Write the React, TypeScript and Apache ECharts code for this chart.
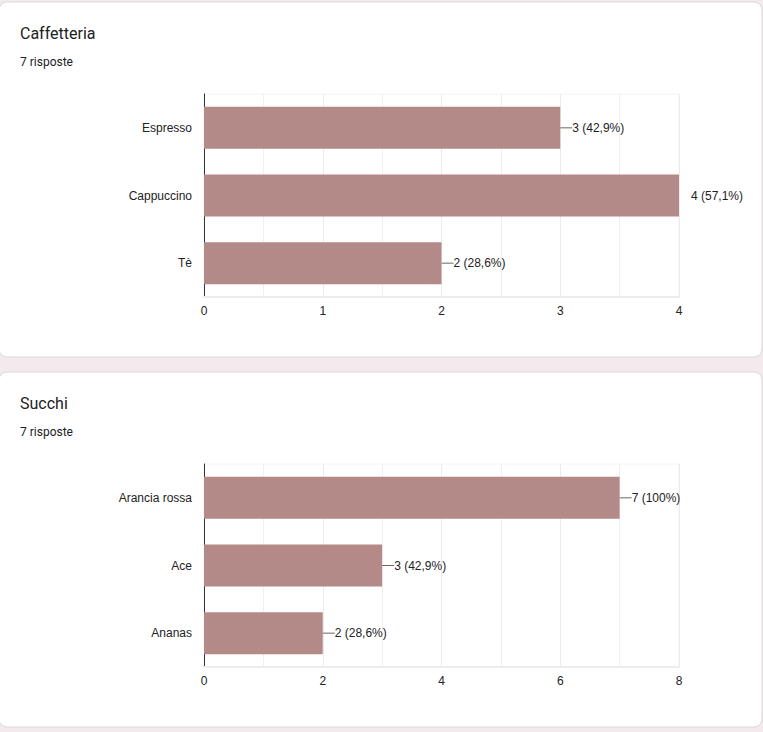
import React, { useEffect, useRef } from "react";
import * as echarts from "echarts";

const coffeeCategories = ["Espresso", "Cappuccino", "Tè"];
const coffeeValues = [3, 4, 2];
const coffeePercents = ["42,9%", "57,1%", "28,6%"];

const juiceCategories = ["Arancia rossa", "Ace", "Ananas"];
const juiceValues = [7, 3, 2];
const juicePercents = ["100%", "42,9%", "28,6%"];

const titles = ["Caffetteria", "Succhi"];
const subtitles = ["7 risposte", "7 risposte"];

const BAR = "#b38a88";
const TXT = "#222222";
const FONT = "'Liberation Sans', Arial, sans-serif";

export default function App() {
  const ref = useRef<HTMLDivElement>(null);
  useEffect(() => {
    document.body.style.margin = "0";
    const chart = echarts.init(ref.current!, null, { renderer: "svg" });
    const cardTops = [2, 372];
    const cardH = 355;
    const graphic: any[] = [
      { type: "rect", shape: { x: 0, y: 0, width: 763, height: 732 }, style: { fill: "#f2eaec" }, silent: true, z: -10 },
    ];
    cardTops.forEach((t, i) => {
      graphic.push({
        type: "rect",
        shape: { x: -1, y: t, width: 763, height: cardH, r: 8 },
        style: { fill: "#ffffff", stroke: "#d9d9dc", lineWidth: 1 },
        silent: true,
        z: -9,
      });
      graphic.push({
        type: "text",
        x: 20,
        y: t + 31,
        style: { text: titles[i], font: "400 16px Roboto", fill: "#202124", verticalAlign: "middle" },
        z: -8,
      });
      graphic.push({
        type: "text",
        x: 20,
        y: t + 60,
        style: { text: subtitles[i], font: "400 12px Roboto", fill: "#202124", verticalAlign: "middle" },
        z: -8,
      });
    });

    const makeSeries = (idx: number, cats: string[], vals: number[], pcts: string[], max: number) => ({
      type: "bar",
      xAxisIndex: idx,
      yAxisIndex: idx,
      barWidth: 42,
      itemStyle: { color: BAR },
      data: vals.map((v, i) => ({
        value: v,
        labelLine: { show: v !== max },
      })),
      label: {
        show: true,
        position: "right",
        distance: 0,
        formatter: (p: any) => `${p.value} (${pcts[p.dataIndex]})`,
        color: TXT,
        fontSize: 12,
        fontFamily: FONT,
      },
      labelLayout: { dx: 12 },
      labelLine: { show: true, lineStyle: { color: "#666666", width: 1 } },
    });

    const xAxisCfg = (gi: number, max: number, interval: number) => ({
      gridIndex: gi,
      type: "value",
      min: 0,
      max,
      interval,
      axisLine: { show: true, lineStyle: { color: "#ececec", width: 2 } },
      axisTick: { show: false },
      axisLabel: { color: TXT, fontSize: 12, fontFamily: FONT, margin: 8 },
      splitLine: { show: true, lineStyle: { color: "#ebebeb", width: 1 } },
      minorTick: { show: false, splitNumber: 2 },
      minorSplitLine: { show: true, lineStyle: { color: "#f0f0f0", width: 1 } },
    });

    const yAxisCfg = (gi: number, cats: string[]) => ({
      gridIndex: gi,
      type: "category",
      data: cats,
      inverse: true,
      axisLine: { show: true, lineStyle: { color: "#333333", width: 1 } },
      axisTick: { show: false },
      axisLabel: { color: TXT, fontSize: 12, fontFamily: FONT, margin: 12 },
      splitLine: { show: false },
    });

    chart.setOption({
      animation: false,
      graphic,
      grid: [
        { left: 204, top: 94, width: 475, height: 203, show: true, borderColor: "#f2f2f2", borderWidth: 1, backgroundColor: "transparent" },
        { left: 204, top: 464, width: 475, height: 203, show: true, borderColor: "#f2f2f2", borderWidth: 1, backgroundColor: "transparent" },
      ],
      xAxis: [xAxisCfg(0, 4, 1), xAxisCfg(1, 8, 2)],
      yAxis: [yAxisCfg(0, coffeeCategories), yAxisCfg(1, juiceCategories)],
      series: [
        makeSeries(0, coffeeCategories, coffeeValues, coffeePercents, 4),
        makeSeries(1, juiceCategories, juiceValues, juicePercents, 8),
      ],
    });
    return () => chart.dispose();
  }, []);
  return <div ref={ref} style={{ width: 763, height: 732 }} />;
}
